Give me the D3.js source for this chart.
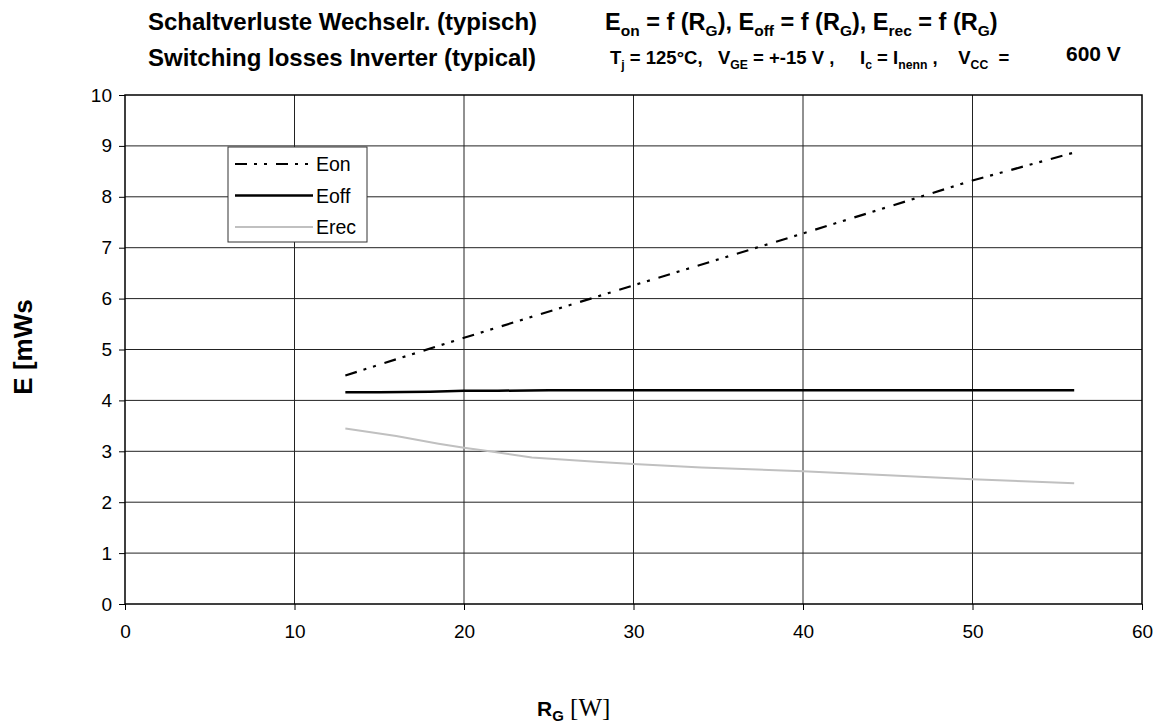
<!DOCTYPE html>
<html>
<head>
<meta charset="utf-8">
<script src="https://cdn.jsdelivr.net/npm/d3@7"></script>
<style>
  body { margin: 0; background: #fff; }
  text { font-family: "Liberation Sans", Arial, sans-serif; }
</style>
</head>
<body>
<svg id="chart" width="1160" height="724"></svg>
<script>
// values
const xTicks = [0, 10, 20, 30, 40, 50, 60]
const yTicks = [0, 1, 2, 3, 4, 5, 6, 7, 8, 9, 10]

const eonX = [13, 20, 30, 40, 50, 56]
const eonY = [4.49, 5.23, 6.26, 7.28, 8.32, 8.87]

const eoffX = [13, 15, 18, 20, 22, 25, 56]
const eoffY = [4.16, 4.16, 4.17, 4.19, 4.19, 4.2, 4.2]

const erecX = [13, 16, 18.5, 20, 21.5, 24, 28, 30, 34, 40, 45, 50, 53, 56]
const erecY = [3.45, 3.3, 3.15, 3.07, 3.0, 2.88, 2.79, 2.75, 2.68, 2.61, 2.53, 2.45, 2.41, 2.37]

const seriesNames = ["Eon", "Eoff", "Erec"]

let svg = d3.select("#chart")

let x = d3.scaleLinear().domain([0, 60]).range([125, 1142])
let y = d3.scaleLinear().domain([0, 10]).range([604, 95])

// grid
svg.append("g").selectAll("line").data(yTicks.slice(1, -1)).join("line")
  .attr("x1", x(0)).attr("x2", x(60))
  .attr("y1", d => y(d)).attr("y2", d => y(d))
  .attr("stroke", "#222").attr("stroke-width", 1)
svg.append("g").selectAll("line").data(xTicks.slice(1, -1)).join("line")
  .attr("y1", y(0)).attr("y2", y(10))
  .attr("x1", d => x(d)).attr("x2", d => x(d))
  .attr("stroke", "#222").attr("stroke-width", 1)

// frame
svg.append("rect")
  .attr("x", x(0)).attr("y", y(10))
  .attr("width", x(60) - x(0)).attr("height", y(0) - y(10))
  .attr("fill", "none").attr("stroke", "#000").attr("stroke-width", 1.5)

// axes
let yAxis = svg.append("g").attr("transform", `translate(${x(0)},0)`)
  .call(d3.axisLeft(y).tickValues(yTicks).tickSize(6).tickPadding(7))
let xAxis = svg.append("g").attr("transform", `translate(0,${y(0)})`)
  .call(d3.axisBottom(x).tickValues(xTicks).tickSize(6).tickPadding(15))
for (let a of [xAxis, yAxis]) {
  a.select(".domain").remove()
  a.selectAll("line").attr("stroke", "#000")
  a.selectAll("text").attr("font-size", 19).attr("fill", "#000")
    .attr("font-family", "Liberation Sans, Arial, sans-serif")
}

// series
let line = d3.line().x(d => x(d[0])).y(d => y(d[1]))
const zip = (a, b) => a.map((v, i) => [v, b[i]])
const styles = {
  Eon: { data: zip(eonX, eonY), color: "#000", width: 2.2, dash: "12,7,3,7,3,9" },
  Eoff: { data: zip(eoffX, eoffY), color: "#000", width: 2.5, dash: null },
  Erec: { data: zip(erecX, erecY), color: "#c0c0c0", width: 2, dash: null }
}
for (let name of ["Erec", "Eoff", "Eon"]) {
  let s = styles[name]
  svg.append("path").datum(s.data)
    .attr("d", line).attr("fill", "none")
    .attr("stroke", s.color).attr("stroke-width", s.width)
    .attr("stroke-dasharray", s.dash)
}

// legend
let lg = svg.append("g")
lg.append("rect").attr("x", 228).attr("y", 147).attr("width", 139).attr("height", 95)
  .attr("fill", "#fff").attr("stroke", "#333").attr("stroke-width", 1)
seriesNames.forEach((n, i) => {
  let s = styles[n]
  let yy = 164 + i * 31.5
  lg.append("line").attr("x1", 235).attr("x2", 313).attr("y1", yy).attr("y2", yy)
    .attr("stroke", s.color).attr("stroke-width", s.width).attr("stroke-dasharray", s.dash)
  lg.append("text").attr("x", 316).attr("y", yy + 7).attr("font-size", 19.5).text(n)
})

// titles
svg.append("text").attr("x", 148).attr("y", 30).attr("font-size", 24).attr("font-weight", "bold")
  .text("Schaltverluste Wechselr. (typisch)")
svg.append("text").attr("x", 148).attr("y", 66).attr("font-size", 24).attr("font-weight", "bold")
  .text("Switching losses Inverter (typical)")

function subText(t, parts, size) {
  const off = size * 0.25
  parts.forEach((p, i) => {
    let ts = t.append("tspan").text(p)
    if (i % 2 == 1) ts.attr("font-size", size * 0.66).attr("dy", off)
    else if (i > 0) ts.attr("dy", -off)
  })
}
let t1 = svg.append("text").attr("x", 605).attr("y", 30).attr("font-size", 23.5).attr("font-weight", "bold")
subText(t1, ["E", "on", " = f (R", "G", "), E", "off", " = f (R", "G", "), E", "rec", " = f (R", "G", ")"], 23.5)

let t2 = svg.append("text").attr("x", 610).attr("y", 64).attr("font-size", 18.5).attr("font-weight", "bold")
  .attr("xml:space", "preserve")
subText(t2, ["T", "j", " = 125°C,   V", "GE", " = +-15 V ,     I", "c", " = I", "nenn", " ,    V", "CC", "  ="], 18.5)
svg.append("text").attr("x", 1066).attr("y", 61).attr("font-size", 21).attr("font-weight", "bold").text("600 V")

// axis titles
svg.append("text").attr("transform", "translate(32,347) rotate(-90)")
  .attr("text-anchor", "middle").attr("font-size", 26).attr("font-weight", "bold").text("E [mWs")
let xt = svg.append("text").attr("x", 537).attr("y", 716).attr("font-size", 21).attr("font-weight", "bold")
xt.append("tspan").text("R")
xt.append("tspan").text("G").attr("font-size", 15).attr("dy", 5)
xt.append("tspan").text(" [W]").attr("dy", -5).attr("font-family", "Liberation Serif, serif").attr("font-weight", "normal").attr("font-size", 25)
</script>
</body>
</html>
